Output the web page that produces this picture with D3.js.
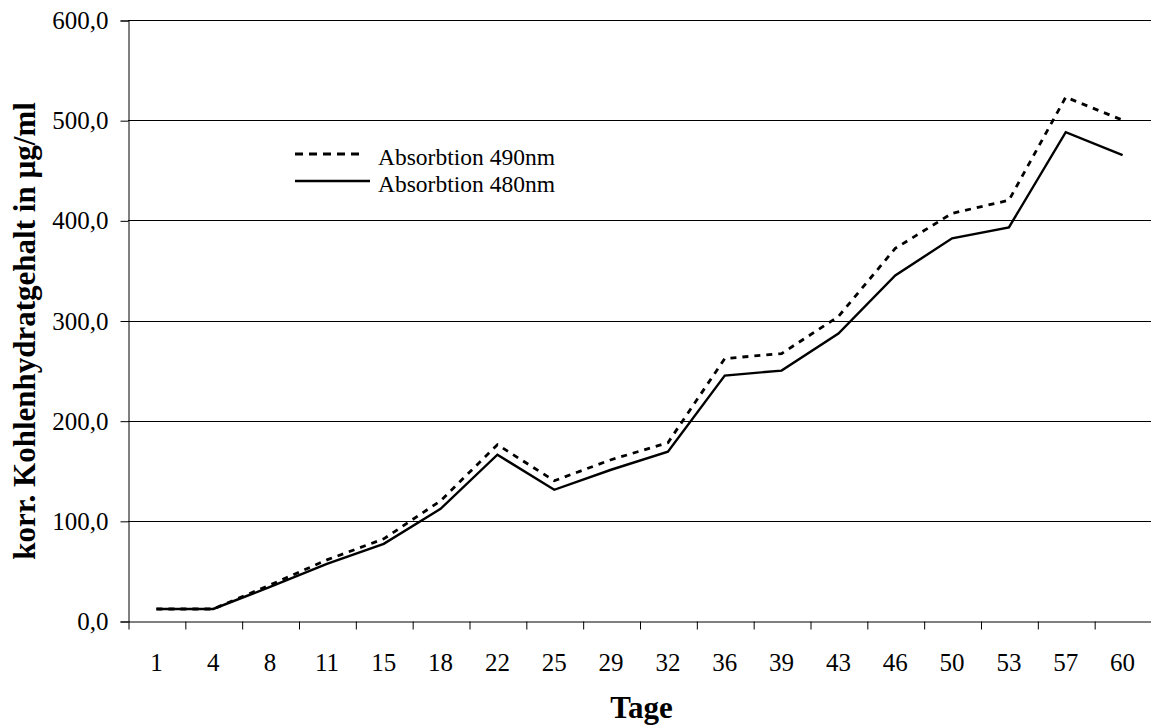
<!DOCTYPE html>
<html>
<head>
<meta charset="utf-8">
<script src="https://cdn.jsdelivr.net/npm/d3@7"></script>
<style>
  body { margin: 0; background: #fff; }
  svg { display: block; font-family: "Liberation Serif", "Times New Roman", serif; }
</style>
</head>
<body>
<script>
// Tage (x categories)
const days = ["1", "4", "8", "11", "15", "18", "22", "25", "29", "32", "36", "39", "43", "46", "50", "53", "57", "60"];
// korr. Kohlenhydratgehalt in µg/ml
const abs490 = [12, 12, 36, 61, 82, 120, 176, 140, 161, 178, 262, 267, 304, 372, 407, 420, 523, 500];
const abs480 = [12, 12, 34, 57, 77, 112, 166, 131, 151, 169, 245, 250, 287, 345, 382, 393, 488, 465];
const yTicks = [0, 100, 200, 300, 400, 500, 600];

const width = 1151, height = 725;
const plotLeft = 128, plotRight = 1151, plotTop = 20, plotBottom = 621;
const serif = '"Liberation Serif", "Times New Roman", serif';

const svg = d3.select("body").append("svg")
    .attr("width", width)
    .attr("height", height);

const x = d3.scaleBand().domain(days).range([plotLeft, plotRight]).padding(0);
const xIdx = d3.scaleLinear().domain([0, days.length]).range([plotLeft, plotRight]);
const y = d3.scaleLinear().domain([0, 600]).range([plotBottom, plotTop]);

// gridlines
svg.append("g")
   .selectAll("line")
   .data(yTicks.filter(d => d > 0))
   .enter()
   .append("line")
   .attr("x1", plotLeft)
   .attr("x2", plotRight)
   .attr("y1", d => Math.round(y(d)) + 0.5)
   .attr("y2", d => Math.round(y(d)) + 0.5)
   .attr("stroke", "#000")
   .attr("stroke-width", 1);

// y axis
const yAxis = svg.append("g")
   .attr("transform", `translate(${plotLeft + 0.5},0.5)`)
   .call(d3.axisLeft(y).tickValues(yTicks).tickSize(8).tickPadding(12)
           .tickFormat(d => d3.format(".1f")(d).replace(".", ",")))
   .attr("font-family", serif)
   .attr("font-size", 25);
yAxis.selectAll("text").attr("fill", "#000");
yAxis.select(".domain").attr("stroke", "#000");

// x axis boundary ticks
const xTickAxis = svg.append("g")
   .attr("transform", `translate(0.5,${Math.round(plotBottom) + 0.5})`)
   .call(d3.axisBottom(xIdx).tickValues(d3.range(days.length + 1)).tickSize(8).tickSizeOuter(0).tickFormat(""));
xTickAxis.select(".domain").attr("stroke", "#000");

// x axis labels
const xAxis = svg.append("g")
   .attr("transform", `translate(0,${plotBottom})`)
   .call(d3.axisBottom(x).tickSize(0))
   .attr("font-family", serif)
   .attr("font-size", 25);
xAxis.select(".domain").remove();
xAxis.selectAll("text")
   .attr("y", 50)
   .attr("dy", 0)
   .attr("fill", "#000");

// lines
const line = d3.line()
   .x((d, i) => x(days[i]) + x.bandwidth() / 2)
   .y(d => y(d));

svg.append("path")
   .datum(abs490)
   .attr("d", line)
   .attr("fill", "none")
   .attr("stroke", "#000")
   .attr("stroke-width", 2.8)
   .attr("stroke-dasharray", "6,6");

svg.append("path")
   .datum(abs480)
   .attr("d", line)
   .attr("fill", "none")
   .attr("stroke", "#000")
   .attr("stroke-width", 2.4);

// legend
const legend = svg.append("g");
legend.append("line")
   .attr("x1", 295).attr("x2", 363).attr("y1", 154).attr("y2", 154)
   .attr("stroke", "#000").attr("stroke-width", 2.8).attr("stroke-dasharray", "8,6");
legend.append("line")
   .attr("x1", 295).attr("x2", 370).attr("y1", 181).attr("y2", 181)
   .attr("stroke", "#000").attr("stroke-width", 2.4);
legend.append("text")
   .attr("x", 378).attr("y", 165)
   .style("font-size", "23.5px")
   .text("Absorbtion 490nm");
legend.append("text")
   .attr("x", 378).attr("y", 192)
   .style("font-size", "23.5px")
   .text("Absorbtion 480nm");

// axis titles
svg.append("text")
   .attr("x", (plotLeft + plotRight) / 2 + 2)
   .attr("y", 718)
   .attr("text-anchor", "middle")
   .style("font-size", "31px")
   .style("font-weight", "bold")
   .text("Tage");

svg.append("text")
   .attr("transform", "translate(35,331) rotate(-90)")
   .attr("text-anchor", "middle")
   .style("font-size", "31px")
   .style("font-weight", "bold")
   .text("korr. Kohlenhydratgehalt in µg/ml");
</script>
</body>
</html>
